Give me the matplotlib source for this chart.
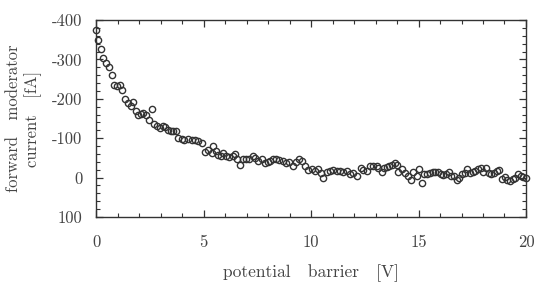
import matplotlib
matplotlib.use("Agg")
import matplotlib.pyplot as plt
from matplotlib.ticker import MultipleLocator

plt.rcParams["font.family"] = "serif"
plt.rcParams["font.serif"] = ["cmr10", "DejaVu Serif"]
plt.rcParams["axes.unicode_minus"] = False
plt.rcParams["mathtext.fontset"] = "cm"

# potential barrier [V]
barrier = [0.0, 0.11, 0.23, 0.34, 0.47, 0.6, 0.73, 0.85, 0.99, 1.12, 1.22, 1.34, 1.47, 1.6,
           1.71, 1.85, 1.97, 2.08, 2.2, 2.33, 2.45, 2.59, 2.71, 2.84, 2.96, 3.1, 3.22, 3.35,
           3.47, 3.6, 3.72, 3.83, 3.99, 4.11, 4.27, 4.45, 4.6, 4.76, 4.92, 5.07, 5.22, 5.38,
           5.46, 5.58, 5.69, 5.8, 5.92, 6.05, 6.2, 6.36, 6.47, 6.57, 6.7, 6.82, 6.98, 7.13,
           7.29, 7.4, 7.55, 7.72, 7.86, 7.99, 8.09, 8.25, 8.37, 8.53, 8.68, 8.84, 8.99, 9.15,
           9.3, 9.46, 9.57, 9.72, 9.87, 10.03, 10.19, 10.31, 10.45, 10.57, 10.73, 10.88,
           11.04, 11.2, 11.35, 11.5, 11.66, 11.81, 11.97, 12.13, 12.31, 12.43, 12.59, 12.74,
           12.9, 13.06, 13.13, 13.29, 13.4, 13.52, 13.64, 13.77, 13.89, 13.99, 14.06, 14.22,
           14.37, 14.53, 14.64, 14.76, 14.92, 15.02, 15.15, 15.26, 15.41, 15.54, 15.66, 15.78,
           15.91, 16.03, 16.15, 16.28, 16.4, 16.53, 16.65, 16.78, 16.9, 17.02, 17.15, 17.27,
           17.4, 17.52, 17.64, 17.77, 17.89, 18.01, 18.14, 18.27, 18.39, 18.51, 18.64, 18.76,
           18.88, 19.01, 19.13, 19.26, 19.38, 19.5, 19.63, 19.75, 19.87, 20.0]

# forward moderator current [fA]
current = [-375, -350, -327, -304, -291, -280, -260, -236, -232, -234, -223, -199, -190, -181,
           -192, -168, -160, -162, -164, -160, -147, -173, -135, -130, -126, -130, -128, -121,
           -118, -119, -119, -101, -98, -96, -98, -96, -96, -94, -88, -65, -71, -63,
           -79, -67, -58, -54, -63, -54, -52, -56, -59, -47, -33, -46, -46, -47,
           -56, -50, -41, -47, -37, -39, -41, -46, -47, -44, -41, -37, -39, -30,
           -39, -47, -41, -29, -20, -22, -16, -22, -12, 1, -13, -16,
           -20, -18, -16, -14, -16, -8, -12, -5, -25, -20, -16, -30,
           -29, -30, -25, -14, -25, -26, -29, -33, -36, -31, -14, -23,
           -12, -3, 7, -14, -3, -23, 13, -8, -9, -12, -13, -14,
           -13, -8, -6, -8, -13, -5, -3, 5, 1, -8, -12, -22,
           -12, -13, -16, -22, -25, -13, -25, -12, -8, -12, -16, -20,
           3, -2, 5, 9, 3, 1, -9, -3, -2, 0]

fig = plt.figure(figsize=(5.34, 2.87), dpi=100)
ax = fig.add_axes([0.18, 0.244, 0.805, 0.686])

ax.plot(barrier, current, "o", mfc="none", mec="#333333", mew=1.0, ms=4.5, clip_on=False)

ax.set_xlim(0, 20)
ax.set_ylim(100, -400)
ax.xaxis.set_major_locator(MultipleLocator(5))
ax.xaxis.set_minor_locator(MultipleLocator(1))
ax.yaxis.set_major_locator(MultipleLocator(100))
ax.yaxis.set_minor_locator(MultipleLocator(20))
ax.tick_params(which="both", direction="in", top=True, right=True, labelsize=12,
               labelcolor="#444444", color="#333333")
ax.tick_params(which="major", length=5, width=0.9)
ax.tick_params(axis="x", which="major", pad=13)
ax.tick_params(axis="y", which="major", pad=10)
ax.tick_params(which="minor", length=3, width=0.8)
for s in ax.spines.values():
    s.set_linewidth(1.0)
    s.set_color("#333333")

ax.set_xlabel("potential   barrier   [V]", fontsize=12.5, color="#444444", labelpad=10)
ax.set_ylabel("forward   moderator\ncurrent   [fA]", fontsize=12, color="#444444",
              labelpad=7, linespacing=1.3)

fig.savefig("out.png", dpi=100)
